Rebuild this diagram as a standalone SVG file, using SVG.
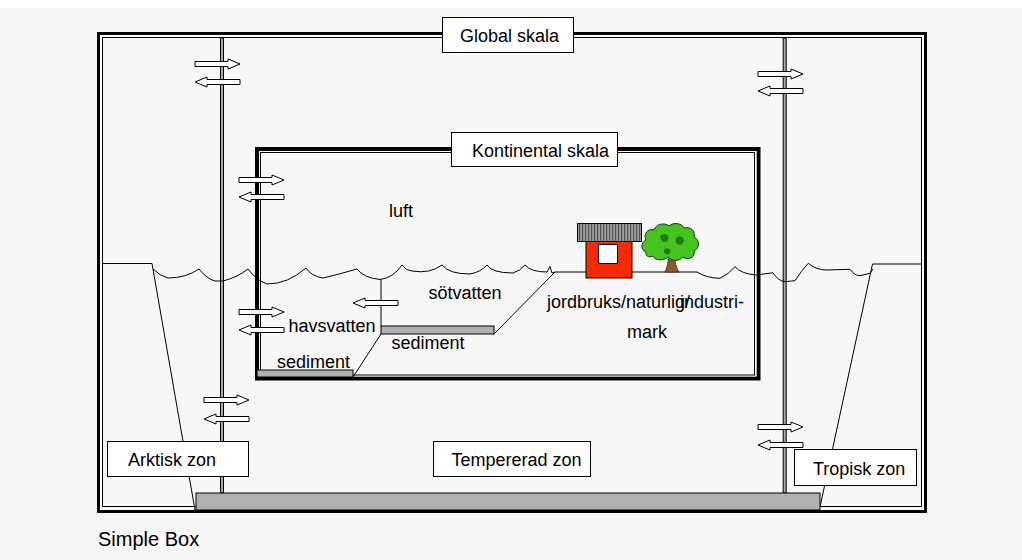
<svg xmlns="http://www.w3.org/2000/svg" width="1022" height="560" viewBox="0 0 1022 560">
  <style>
    text { font-family: "Liberation Sans", Arial, sans-serif; font-size: 18px; fill: #000; }
    .thick { fill: none; stroke: #000; }
    .gap { fill: none; stroke: #fff; }
    .thin { fill: none; stroke: #000; stroke-width: 1; }
    .label { fill: #fff; stroke: #000; stroke-width: 1; }
    .divider { fill: #aaa; stroke: #000; stroke-width: 1; }
    .sed { fill: #b0b0b0; stroke: #000; stroke-width: 1; }
    .line { fill: none; stroke: #000; stroke-width: 1; }
    .arrow { fill: #fff; stroke: #000; stroke-width: 1; }
  </style>
  <defs>
    <path id="ar-r" d="M0,-2.5 H33 V-5 L45,0 L33,5 V2.5 H0 Z"/>
    <path id="ar-l" d="M45,-2.5 H12 V-5 L0,0 L12,5 V2.5 H45 Z"/>
    <pattern id="roof" width="3" height="20" patternUnits="userSpaceOnUse">
      <rect width="3" height="20" fill="#a0a0a0"/>
      <rect width="1.2" height="20" fill="#505050"/>
    </pattern>
  </defs>

  <!-- page -->
  <rect width="1022" height="560" fill="#f7f7f7"/>
  <rect width="1022" height="8" fill="#fff"/>

  <!-- global scale frame -->
  <g id="global">
    <rect class="thick" x="98.5" y="33.5" width="827" height="478" stroke-width="3"/>
    <rect class="gap" x="101" y="36" width="822" height="473" stroke-width="2"/>
    <rect class="thin" x="102.5" y="37.5" width="819" height="469"/>
  </g>

  <!-- zone dividers -->
  <g id="dividers">
    <rect class="divider" x="220.5" y="38" width="3" height="455"/>
    <rect class="divider" x="783.2" y="38" width="3" height="455"/>
  </g>

  <!-- continental scale frame -->
  <g id="continental">
    <rect class="thick" x="257" y="149" width="501.5" height="229.5" stroke-width="4"/>
    <rect class="gap" x="259.6" y="151.6" width="496.2" height="224.2" stroke-width="1.2"/>
    <rect class="thin" x="260.5" y="152.5" width="494" height="222.5"/>
  </g>

  <!-- shelf slopes, water surface, ground -->
  <g id="terrain">
    <path class="line" d="M102,263.5 H152 L195,510"/>
    <path class="line" d="M921,264 H872.5 L820,507"/>
    <path class="line" d="M153,269 Q160,276 168,278 Q186,278 199,269 Q207,279 215,281 L223,281 Q238,277 248,269 Q256,280 267,284 Q288,284 306,268 Q311,276 323,278 Q340,274 357,269 Q364,278 380,279.5 Q393,278 402,265 Q406,271 412,271 Q430,274 442,265 Q449,274 470,274 Q481,272 487,265 Q492,273 513,273 Q520,271 525,265 Q531,272 547,272 L550,266.5 L552,273 L555,272 H697 Q706,278 720,278.3 Q729,274 735,266.7 Q741,274 757,275 L773,272.7 Q778,281 785,281.7 L795,280.7 Q801,271 808.3,263.3 Q816,270 827,270 L850,269.3 Q855,276 860,275.7 L870,273.3 L873,269"/>
    <path class="line" d="M381,279.5 V326"/>
    <path class="line" d="M494,334 L555,272"/>
    <path class="line" d="M353,377 L381,334"/>
  </g>

  <!-- sediments -->
  <g id="sediments">
    <rect class="sed" x="381" y="326" width="113" height="8"/>
    <rect class="sed" x="257" y="370" width="96" height="7"/>
    <rect class="sed" x="196" y="493" width="624" height="17"/>
  </g>

  <!-- scale labels -->
  <g id="global-label">
    <rect class="label" x="442.5" y="17.5" width="131" height="35"/>
    <text x="460" y="42">Global skala</text>
  </g>
  <g id="continental-label">
    <rect class="label" x="451.5" y="132.5" width="166" height="34"/>
    <text x="472" y="156.5">Kontinental skala</text>
  </g>

  <!-- zone labels -->
  <g id="arctic">
    <rect class="label" x="107.5" y="441.5" width="141" height="35"/>
    <text x="128" y="466">Arktisk zon</text>
  </g>
  <g id="temperate">
    <rect class="label" x="433.5" y="441.5" width="157" height="35"/>
    <text x="451.5" y="466">Tempererad zon</text>
  </g>
  <g id="tropical">
    <rect class="label" x="794.5" y="449.5" width="122" height="36"/>
    <text x="813" y="475">Tropisk zon</text>
  </g>

  <!-- exchange arrows -->
  <g id="connectors">
    <use href="#ar-r" class="arrow" x="195" y="64"/>
    <use href="#ar-l" class="arrow" x="195" y="82"/>
    <use href="#ar-r" class="arrow" x="758" y="74"/>
    <use href="#ar-l" class="arrow" x="758" y="91"/>
    <use href="#ar-r" class="arrow" x="239" y="180"/>
    <use href="#ar-l" class="arrow" x="239" y="197"/>
    <use href="#ar-r" class="arrow" x="239" y="312"/>
    <use href="#ar-l" class="arrow" x="239" y="330"/>
    <use href="#ar-r" class="arrow" x="204" y="400"/>
    <use href="#ar-l" class="arrow" x="204" y="419"/>
    <use href="#ar-r" class="arrow" x="758" y="427"/>
    <use href="#ar-l" class="arrow" x="758" y="445"/>
    <use href="#ar-l" class="arrow" x="353" y="303"/>
  </g>

  <!-- farmhouse -->
  <g id="house">
    <rect x="586" y="241.5" width="46" height="36.5" fill="#f42a00" stroke="#000" stroke-width="1"/>
    <rect x="598.5" y="244.5" width="19" height="19" fill="#fff" stroke="#000" stroke-width="1"/>
    <rect x="577.5" y="223.5" width="64" height="18" fill="url(#roof)" stroke="#000" stroke-width="1"/>
  </g>

  <!-- tree -->
  <g id="tree">
    <path d="M665,272 C668,266 669,258 668,249 L675,249 C674,258 675,266 679,272 Z" fill="#8a5a2a" stroke="#3a2410" stroke-width="0.8"/>
    <path d="M646,252 C640,250 641,242 646,240 C643,234 648,228 654,230 C656,224 664,222 669,226 C673,222 682,223 684,228 C690,226 696,231 694,237 C700,240 700,248 694,251 C696,257 688,261 683,257 C679,262 671,261 668,257 C663,261 655,261 653,256 C649,258 645,256 646,252 Z" fill="#46c41e" stroke="#0d3d05" stroke-width="1"/>
    <path d="M660,236 C664,232 670,234 668,240 C666,244 660,242 660,236 Z M676,238 C680,234 686,238 683,243 C680,247 674,244 676,238 Z M664,250 C667,247 672,249 670,253 C668,256 663,254 664,250 Z" fill="#1f7a10"/>
  </g>

  <!-- compartment names -->
  <g id="compartments">
    <text x="389" y="217">luft</text>
    <text x="428.5" y="298.5">sötvatten</text>
    <text x="288.5" y="332">havsvatten</text>
    <text x="391.5" y="349">sediment</text>
    <text x="277" y="367.5">sediment</text>
    <text y="307.5"><tspan x="547">jordbruks/</tspan><tspan x="626">naturlig/</tspan><tspan x="680">industri-</tspan></text>
    <text x="627" y="338">mark</text>
  </g>

  <text id="caption" x="98" y="546" style="font-size:20px">Simple Box</text>
</svg>
